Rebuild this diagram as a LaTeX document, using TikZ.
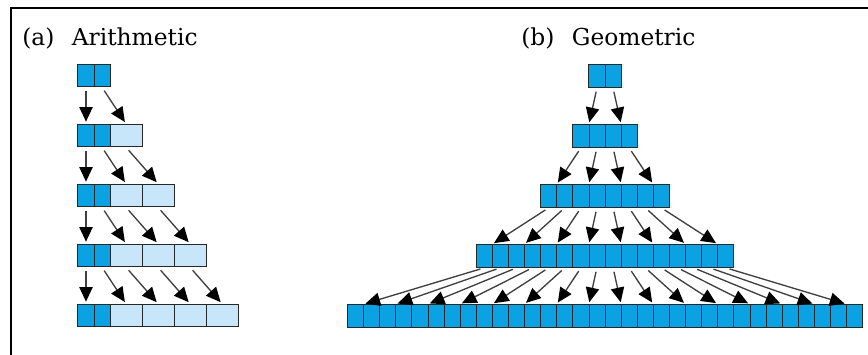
\documentclass[tikz,border=0pt]{standalone}
\usepackage{tikz}
\usepackage{fontspec}
\setmainfont{DejaVu Serif}
\usetikzlibrary{arrows.meta}

\definecolor{celldark}{RGB}{10,162,226}
\definecolor{celllight}{RGB}{200,230,250}
\definecolor{edgegray}{RGB}{40,40,40}

\begin{document}
\begin{tikzpicture}[x=0.75pt, y=-0.75pt, >={Triangle[length=11pt, width=10pt, color=black]},
    every node/.style={font=\fontsize{17.5}{21}\selectfont}]
    \tikzstyle{halves}=[draw=edgegray, line width=0.7pt, fill=celldark, inner sep=0pt,
        minimum width=24.15pt, minimum height=17pt,
        path picture={\draw[edgegray, line width=0.5pt] (path picture bounding box.north) -- (path picture bounding box.south);}]
    \tikzstyle{plain}=[draw=edgegray, line width=0.7pt, fill=celllight, inner sep=0pt,
        minimum width=24pt, minimum height=17pt]
    \tikzstyle{arr}=[->, line width=1pt, draw=black!75, shorten <=3pt, shorten >=1.5pt]

    \clip (0,0) rectangle (868,354);
    \fill[white] (0,0) rectangle (868,354);
    \draw[line width=1.3pt] (11,8) rectangle (890,380);

    \node[anchor=base west, inner sep=0pt] (titleA) at (22,45) {(a)\hspace{0.75em}Arithmetic};
    \node[anchor=base west, inner sep=0pt] (titleB) at (521,45) {(b)\hspace{0.75em}Geometric};

    % (a) arithmetic rows
    \foreach \r in {1,...,5} {
        \pgfmathsetmacro\y{75.5+60*(\r-1)}
        \node[halves] (a-\r-0) at (94,\y) {};
        \ifnum\r>1
            \foreach \j in {1,...,\numexpr\r-1\relax} {
                \node[plain] (a-\r-\j) at (94+32*\j,\y) {};
            }
        \fi
    }
    \foreach \r in {1,...,4} {
        \pgfmathtruncatemacro\rr{\r+1}
        \draw[arr] ([xshift=-6pt]a-\r-0.south) -- ([xshift=-6pt]a-\rr-0.north);
        \draw[arr] ([xshift=6pt]a-\r-0.south) -- (a-\rr-1.north);
        \ifnum\r>1
            \foreach \j in {1,...,\numexpr\r-1\relax} {
                \pgfmathtruncatemacro\jj{\j+1}
                \draw[arr] (a-\r-\j.south) -- (a-\rr-\jj.north);
            }
        \fi
    }

    % (b) geometric rows
    \foreach \r in {1,...,5} {
        \pgfmathtruncatemacro\N{2^(\r-1)}
        \pgfmathsetmacro\y{76+60*(\r-1)}
        \foreach \k in {1,...,\N} {
            \node[halves] (g-\r-\k) at (605+32.2*\k-16.1*\N-16.1,\y) {};
        }
    }
    \foreach \r in {1,...,4} {
        \pgfmathtruncatemacro\rr{\r+1}
        \pgfmathtruncatemacro\M{2^\r}
        \foreach \h in {1,...,\M} {
            \pgfmathtruncatemacro\p{(\h+1)/2}
            \pgfmathsetmacro\s{ifthenelse(mod(\h,2)==1,-6,6)}
            \draw[arr] ([xshift=\s pt]g-\r-\p.south) -- (g-\rr-\h.north);
        }
    }
\end{tikzpicture}
\end{document}
